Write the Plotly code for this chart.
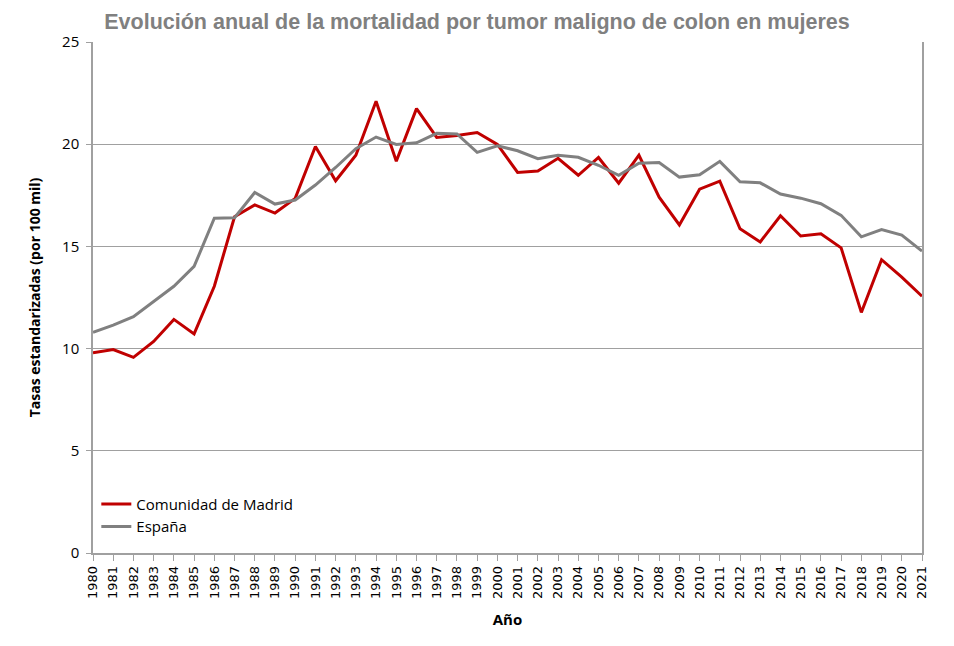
import plotly.graph_objects as go

years = list(range(1980, 2022))
madrid = [9.80, 9.95, 9.57, 10.35, 11.43, 10.72, 13.05, 16.45, 17.03, 16.63,
          17.35, 19.89, 18.21, 19.46, 22.10, 19.17, 21.74, 20.33, 20.43, 20.57,
          19.99, 18.62, 18.69, 19.31, 18.48, 19.35, 18.09, 19.46, 17.41, 16.05,
          17.80, 18.19, 15.86, 15.22, 16.50, 15.51, 15.62, 14.93, 11.77, 14.35,
          13.50, 12.56]
espana = [10.80, 11.15, 11.56, 12.29, 13.05, 14.02, 16.38, 16.40, 17.64, 17.07,
          17.27, 18.00, 18.86, 19.78, 20.35, 19.99, 20.07, 20.53, 20.50, 19.60,
          19.92, 19.68, 19.29, 19.46, 19.36, 18.97, 18.48, 19.07, 19.10, 18.39,
          18.50, 19.16, 18.16, 18.11, 17.56, 17.36, 17.09, 16.52, 15.47, 15.82,
          15.55, 14.77]
year_labels = [str(y) for y in years]

fig = go.Figure()
fig.add_trace(go.Scatter(x=years, y=madrid, mode="lines", name="Comunidad de Madrid",
                         legendgroup="a", line=dict(color="#C00000", width=3)))
fig.add_trace(go.Scatter(x=years, y=espana, mode="lines", name="España",
                         legendgroup="b", line=dict(color="#808080", width=3)))

fig.update_layout(
    width=938, height=630,
    margin=dict(l=85, r=24, t=34, b=82),
    paper_bgcolor="white", plot_bgcolor="white",
    title=dict(text="<b>Evolución anual de la mortalidad por tumor maligno de colon en mujeres</b>",
               x=0.5, xanchor="center", y=0.99, yanchor="top", yref="container",
               pad=dict(t=0),
               font=dict(family="Liberation Sans Narrow, Arial Narrow, Liberation Sans", size=21.5, color="#808080")),
    legend=dict(x=0.004, y=0.02, xanchor="left", yanchor="bottom",
                bgcolor="rgba(0,0,0,0)", traceorder="normal",
                font=dict(family="Open Sans, Lato, sans-serif", size=15, color="black"),
                itemwidth=30, tracegroupgap=10),
    font=dict(family="DejaVu Sans", color="black"),
)
fig.update_xaxes(
    range=[1980, 2021], tickmode="array", tickvals=years, ticktext=year_labels,
    tickangle=-90, tickfont=dict(family="DejaVu Sans", size=13, color="black"),
    showline=True, linecolor="#a0a0a0", linewidth=1.5,
    ticks="outside", ticklen=6, tickcolor="#a0a0a0",
    showgrid=False, zeroline=False,
    title=dict(text="<b>Año</b>", font=dict(family="Open Sans, Liberation Sans", size=15), standoff=16),
)
fig.update_yaxes(
    range=[0, 25], dtick=5, tick0=0,
    tickfont=dict(family="Open Sans, Lato, sans-serif", size=15, color="black"),
    showline=True, mirror=True, linecolor="#a0a0a0", linewidth=1.5,
    ticks="outside", ticklen=5, tickcolor="#a0a0a0", ticklabelstandoff=4,
    showgrid=True, gridcolor="#a0a0a0", gridwidth=1, zeroline=False,
    title=dict(text="<b>Tasas estandarizadas (por 100 mil)</b>",
               font=dict(family="Open Sans, Liberation Sans", size=14), standoff=18),
)

fig.write_html("out.html")
